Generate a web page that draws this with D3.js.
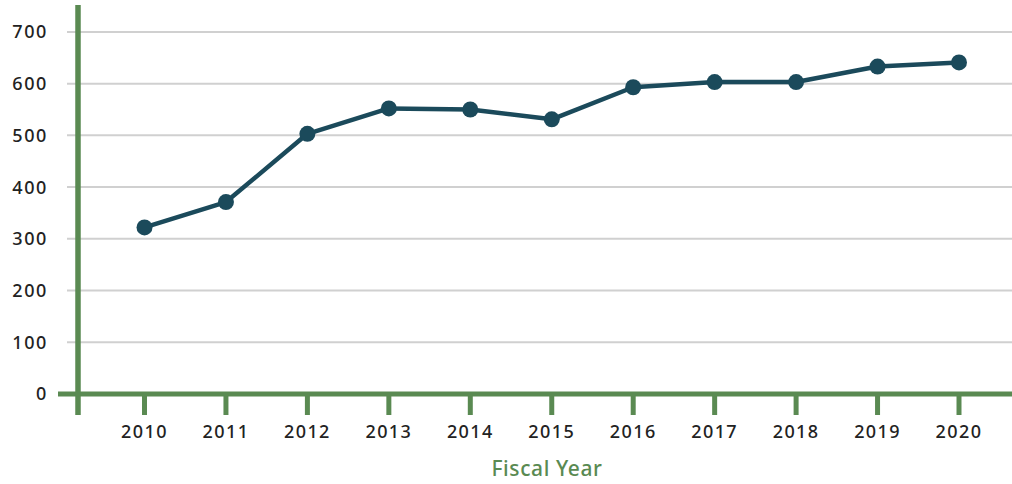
<!DOCTYPE html>
<html>
<head>
<meta charset="utf-8">
<script src="https://cdn.jsdelivr.net/npm/d3@7"></script>
<style>
  body { margin: 0; background: #fff; }
  svg { display: block; font-family: "Noto Sans", "Open Sans", sans-serif; }
</style>
</head>
<body>
<svg width="1012" height="484"></svg>
<script>
const years = [2010, 2011, 2012, 2013, 2014, 2015, 2016, 2017, 2018, 2019, 2020]
const values = [322, 371, 503, 552, 550, 531, 593, 603, 603, 633, 641]
const yTicks = [0, 100, 200, 300, 400, 500, 600, 700]

const green = "#5a8a52"
const lineColor = "#1b4a5b"

const svg = d3.select("svg")

const x = d3.scaleLinear()
    .domain([2010, 2020])
    .range([144.5, 959])

const y = d3.scaleLinear()
    .domain([0, 752])
    .range([394, 5])

const axisX = 78

// gridlines
svg.append("g")
  .selectAll("line")
  .data(yTicks.filter(d => d > 0))
  .join("line")
    .attr("x1", 67)
    .attr("x2", 1012)
    .attr("y1", d => y(d))
    .attr("y2", d => y(d))
    .attr("stroke", "#d0d0d0")
    .attr("stroke-width", 2);

// y tick labels
svg.append("g")
  .selectAll("text")
  .data(yTicks)
  .join("text")
    .attr("x", 48)
    .attr("y", d => y(d))
    .attr("dy", "0.36em")
    .attr("text-anchor", "end")
    .attr("font-size", 18)
    .attr("font-weight", 500)
    .attr("letter-spacing", 1.6)
    .attr("fill", "#222")
    .text(d => d);

// x axis line
svg.append("line")
    .attr("x1", 58)
    .attr("x2", 1012)
    .attr("y1", y(0))
    .attr("y2", y(0))
    .attr("stroke", green)
    .attr("stroke-width", 5);

// y axis line
svg.append("line")
    .attr("x1", axisX)
    .attr("x2", axisX)
    .attr("y1", y(752))
    .attr("y2", 415)
    .attr("stroke", green)
    .attr("stroke-width", 5.5);

// x ticks
svg.append("g")
  .selectAll("line")
  .data(years)
  .join("line")
    .attr("x1", d => x(d))
    .attr("x2", d => x(d))
    .attr("y1", y(0))
    .attr("y2", 415)
    .attr("stroke", green)
    .attr("stroke-width", 5);

svg.append("g")
  .selectAll("text")
  .data(years)
  .join("text")
    .attr("x", d => x(d))
    .attr("y", 438)
    .attr("text-anchor", "middle")
    .attr("font-size", 18)
    .attr("font-weight", 500)
    .attr("letter-spacing", 1.4)
    .attr("fill", "#222")
    .text(d => d);

svg.append("text")
    .attr("x", 547)
    .attr("y", 476)
    .attr("text-anchor", "middle")
    .attr("font-size", 21)
    .attr("font-weight", 500)
    .attr("letter-spacing", 0.6)
    .attr("fill", green)
    .text("Fiscal Year");

// the line
const pts = years.map((d, i) => ({year: d, value: values[i]}))

const line = d3.line()
    .x(d => x(d.year))
    .y(d => y(d.value))

svg.append("path")
    .datum(pts)
    .attr("d", line)
    .attr("fill", "none")
    .attr("stroke", lineColor)
    .attr("stroke-width", 4.5)
    .attr("stroke-linejoin", "round");

svg.append("g")
  .selectAll("circle")
  .data(pts)
  .join("circle")
    .attr("cx", d => x(d.year))
    .attr("cy", d => y(d.value))
    .attr("r", 8)
    .attr("fill", lineColor);
</script>
</body>
</html>
